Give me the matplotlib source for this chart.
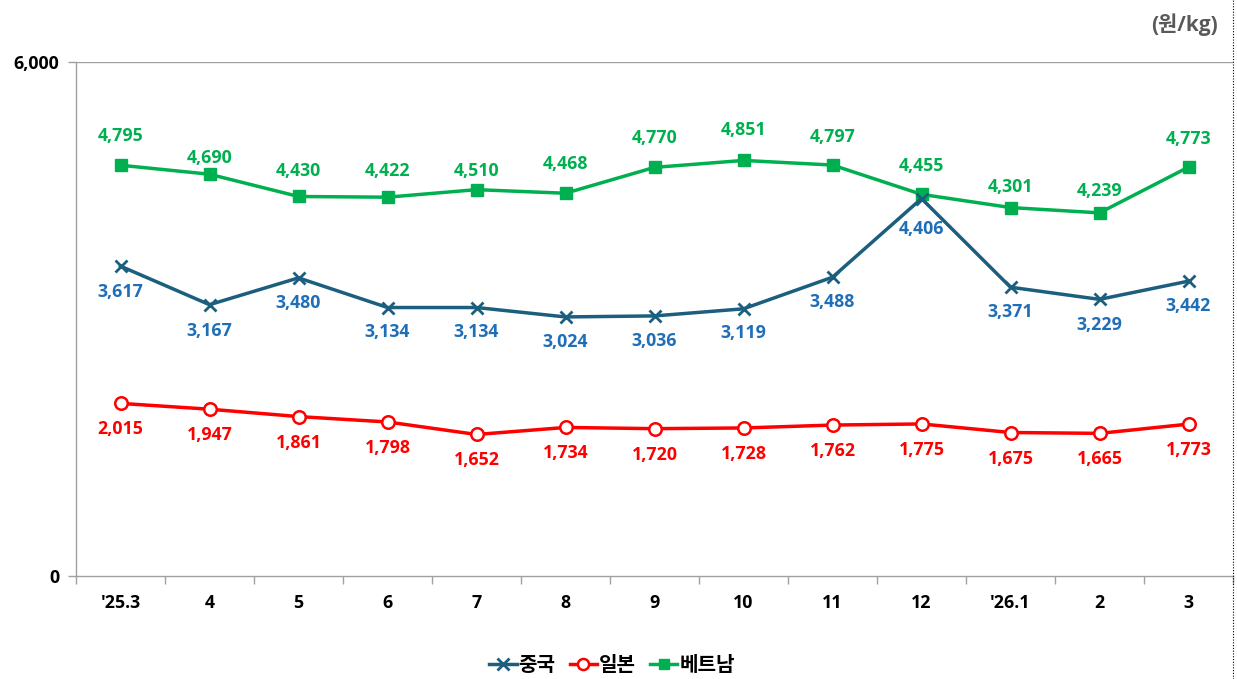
import numpy as np
import matplotlib
matplotlib.use('Agg')
import matplotlib.pyplot as plt
from matplotlib.lines import Line2D

plt.rcParams['font.family'] = ['Open Sans', 'Noto Sans CJK KR', 'DejaVu Sans']
plt.rcParams['font.weight'] = 'bold'

months = ["'25.3", '4', '5', '6', '7', '8', '9', '10', '11', '12', "'26.1", '2', '3']
china = [3617, 3167, 3480, 3134, 3134, 3024, 3036, 3119, 3488, 4406, 3371, 3229, 3442]
japan = [2015, 1947, 1861, 1798, 1652, 1734, 1720, 1728, 1762, 1775, 1675, 1665, 1773]
vietnam = [4795, 4690, 4430, 4422, 4510, 4468, 4770, 4851, 4797, 4455, 4301, 4239, 4773]

# label offsets in pixels (hand placed in the original)
vn_off = [29, 16, 25, 26, 19, 29, 29, 30, 28, 28, 21, 22, 28]
cn_off = [-26, -26, -25, -24, -24, -25, -25, -24, -25, -30, -25, -26, -25]

C_CN = '#1b5e7e'
C_CN_TXT = '#1f6fb8'
C_JP = '#ff0000'
C_VN = '#00b050'
FS = 12.8

W, H = 1237, 679
fig = plt.figure(figsize=(W / 100, H / 100), dpi=100)
ax = fig.add_axes([76 / W, 103 / H, 1157 / W, 514 / H])
x = np.arange(len(months))

ax.plot(x, vietnam, color=C_VN, lw=2.5, marker='s', ms=8, zorder=3)
ax.plot(x, china, color=C_CN, lw=2.5, marker='x', ms=9, mew=2, zorder=3)
ax.plot(x, japan, color=C_JP, lw=2.5, marker='o', ms=9, mfc='white', mew=1.8, zorder=3)

for i in range(len(x)):
    ax.annotate(f'{vietnam[i]:,}', (x[i], vietnam[i]), xytext=(0, vn_off[i]), textcoords='offset pixels',
                ha='center', va='center', color=C_VN, fontsize=FS, fontweight='bold')
    ax.annotate(f'{china[i]:,}', (x[i], china[i]), xytext=(0, cn_off[i]), textcoords='offset pixels',
                ha='center', va='center', color=C_CN_TXT, fontsize=FS, fontweight='bold')
    ax.annotate(f'{japan[i]:,}', (x[i], japan[i]), xytext=(0, -26), textcoords='offset pixels',
                ha='center', va='center', color=C_JP, fontsize=FS, fontweight='bold')

ax.set_xlim(-0.5, len(x) - 0.5)
ax.set_ylim(0, 6000)
ax.set_yticks([0, 6000])
ax.set_yticklabels(['0', '6,000'], fontsize=FS, fontweight='bold')
ax.set_xticks(x)
ax.set_xticklabels(months, fontsize=FS, fontweight='bold')
ax.set_xticks(np.arange(-0.5, len(x), 1.0), minor=True)
ax.tick_params(axis='x', which='major', length=0, pad=13)
ax.tick_params(axis='x', which='minor', length=6, color='#a0a0a0', width=1)
ax.tick_params(axis='y', length=6, color='#a0a0a0', width=1, pad=6)
ax.axhline(6000, color='#a0a0a0', lw=1, zorder=1)

for s in ['top', 'right']:
    ax.spines[s].set_visible(False)
for s in ['left', 'bottom']:
    ax.spines[s].set_color('#a0a0a0')
    ax.spines[s].set_linewidth(1)

fig.text(1185 / W, 1 - 25 / H, '(원/kg)', ha='center', va='center', color='#595959',
         fontsize=15, fontweight='bold')

fig.add_artist(Line2D([1233 / W, 1233 / W], [0, 1], color='black', lw=0.8, ls=(0, (1, 1.5))))

handles = [Line2D([], [], color=C_CN, lw=2.5, marker='x', ms=9, mew=2),
           Line2D([], [], color=C_JP, lw=2.5, marker='o', ms=8, mfc='white', mew=1.8),
           Line2D([], [], color=C_VN, lw=2.5, marker='s', ms=7)]
fig.legend(handles, ['중국', '일본', '베트남'], loc='center', bbox_to_anchor=(612 / W, 1 - 666 / H),
           ncol=3, frameon=False, handlelength=1.35, handletextpad=0.1,
           columnspacing=0.7, prop={'weight': 'bold', 'size': 14.5})

fig.savefig('out.png', dpi=100)
